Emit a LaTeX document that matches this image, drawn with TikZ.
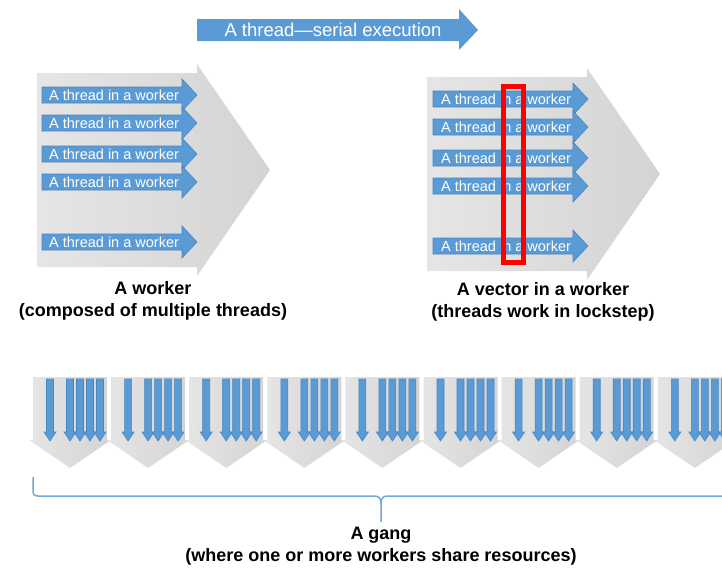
\documentclass[tikz,border=0pt]{standalone}
\usepackage{fontspec}
\setmainfont{Liberation Sans}
\usetikzlibrary{positioning}
\definecolor{threadblue}{HTML}{5B9BD5}
\definecolor{threadedge}{HTML}{4A86BE}
\definecolor{bracecol}{HTML}{6FA8DC}
\definecolor{lockred}{HTML}{FF0000}

\tikzset{
  threadarrow/.style={fill=threadblue, draw=threadedge, line width=0.6},
  workerbody/.style={left color=gray!20, right color=gray!34, draw=none},
  threadtext/.style={text=white, font=\fontsize{14.5}{16}\selectfont, inner sep=0pt},
  caption/.style={font=\bfseries\fontsize{18}{22}\selectfont, align=center},
}

% horizontal thread arrow, left end at (#1,#2)
\newcommand{\hthread}[2]{%
  \filldraw[threadarrow] (#1,#2) ++(0,-8) -- ++(140,0) -- ++(0,-8) -- ++(15,16)
    -- ++(-15,16) -- ++(0,-8) -- ++(-140,0) -- cycle;}
% big gray worker arrow, left end at (#1,#2)
\newcommand{\bigworker}[2]{%
  \shade[workerbody] (#1,#2) ++(0,-97) -- ++(160,0) -- ++(0,-9) -- ++(73,106)
    -- ++(-73,106) -- ++(0,-9) -- ++(-160,0) -- cycle;}

\begin{document}
\begin{tikzpicture}[x=1pt,y=-1pt]
  \clip (0,0) rectangle (722,568);

  % serial thread on top
  \fill[threadblue] (197,19) -- (459,19) -- (459,9) -- (478,30) -- (459,50) -- (459,41) -- (197,41) -- cycle;
  \node[threadtext, font=\fontsize{18.5}{20}\selectfont] (serial) at (333,30) {A thread---serial execution};

  % worker with its threads
  \bigworker{37}{170}
  \foreach \row [count=\i] in {95,123,154,182,242}{
    \hthread{42}{\row}
    \node[threadtext, anchor=west] (lthread\i) at (49,\row) {A thread in a worker};
  }
  \node[caption] (workercap) at (153,301) {A worker\\(composed of multiple threads)};

  % vector in a worker
  \bigworker{427}{174}
  \foreach \row [count=\i] in {99,127,158,186,246}{
    \hthread{433}{\row}
    \node[threadtext, anchor=west] (rthread\i) at (441,\row) {A thread in a worker};
  }
  \draw[lockred, line width=5] (503,86) rectangle (523,262); % lockstep
  \node[caption] (vectorcap) at (543,302) {A vector in a worker\\(threads work in lockstep)};

  % gang of workers
  \foreach \g [evaluate=\g as \x using 33+78.1*\g] in {0,...,8}{
    \shade[workerbody] (\x,377) -- (\x+74,377) -- (\x+74,440) -- (\x+78,440) -- (\x+37,468) -- (\x-4,440) -- (\x,440) -- cycle;
    \foreach \dx in {17,37,47,57,67}{
      \filldraw[threadarrow] (\x+\dx-3.5,379) -- (\x+\dx+3.5,379) -- (\x+\dx+3.5,432) -- (\x+\dx+6,432)
        -- (\x+\dx,441) -- (\x+\dx-6,432) -- (\x+\dx-3.5,432) -- cycle;
    }
  }

  % brace
  \draw[bracecol, line width=1.5] (33,477) -- (33,490) .. controls (33,494) and (34,496) .. (38,496) -- (374,496)
    .. controls (379,496) and (381,498) .. (381,504) -- (381,522);
  \draw[bracecol, line width=1.5] (381,504) .. controls (381,498) and (383,496) .. (388,496) -- (730,496);
  \node[caption] (gangcap) at (381,546) {A gang\\(where one or more workers share resources)};
\end{tikzpicture}
\end{document}
